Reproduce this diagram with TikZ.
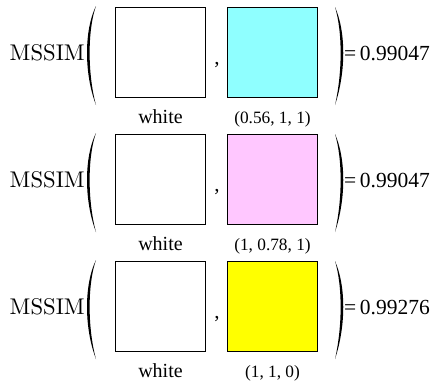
\documentclass[tikz,border=0pt]{standalone}
\usepackage{fontspec}
\newfontfamily\tms{Liberation Serif}
\newfontfamily\lmten[Extension=.otf]{lmroman10-regular}
\definecolor{cyanc}{rgb}{0.56,1,1}
\definecolor{magc}{rgb}{1,0.78,1}
\definecolor{yelc}{rgb}{1,1,0}
\tikzset{
  sq/.style={draw=black, line width=0.9pt, minimum width=90pt, minimum height=90pt, inner sep=0pt, outer sep=0pt},
  lab/.style={font=\tms\fontsize{20}{20}\selectfont, anchor=base, inner sep=0pt},
  sublab/.style={font=\tms\fontsize{17.3}{17.3}\selectfont, anchor=base, inner sep=0pt},
  fnsty/.style={font=\lmten\fontsize{22.7}{22.7}\selectfont, anchor=base east, inner sep=0pt},
  valsty/.style={font=\tms\fontsize{21.5}{21.5}\selectfont, anchor=base west, inner sep=0pt},
  commasty/.style={font=\tms\fontsize{21}{21}\selectfont, anchor=base, inner sep=0pt},
}
\begin{document}
\begin{tikzpicture}[x=1pt,y=-1pt]
\useasboundingbox (0,0) rectangle (438,383);
\foreach \r/\yc/\col/\txt/\v in {1/52/cyanc/{(0.56, 1, 1)}/0.99047, 2/179/magc/{(1, 0.78, 1)}/0.99047, 3/306/yelc/{(1, 1, 0)}/0.99276}{
  \node[sq, fill=white] (w\r) at (160.5,\yc) {};
  \node[sq, fill=\col] (c\r) at (272.5,\yc) {};
  \node[fnsty] (f\r) at (85,\yc+8) {MSSIM};
  \node[valsty] (v\r) at (344,\yc+8) {=\,\v};
  \node[commasty] (k\r) at (217,\yc+12) {,};
  \node[lab] (lw\r) at (160.5,\yc+71) {white};
  \node[sublab] (lc\r) at (272.5,\yc+71) {\txt};
  \fill (96,\yc-46) .. controls (84,\yc-22) and (84,\yc+22) .. (96,\yc+53)
        .. controls (87.5,\yc+22) and (87.5,\yc-22) .. (96,\yc-46) -- cycle;
  \fill (335,\yc-45) .. controls (346,\yc-20) and (346,\yc+20) .. (335,\yc+53)
        .. controls (342.5,\yc+20) and (342.5,\yc-20) .. (335,\yc-45) -- cycle;
}
\end{tikzpicture}
\end{document}
